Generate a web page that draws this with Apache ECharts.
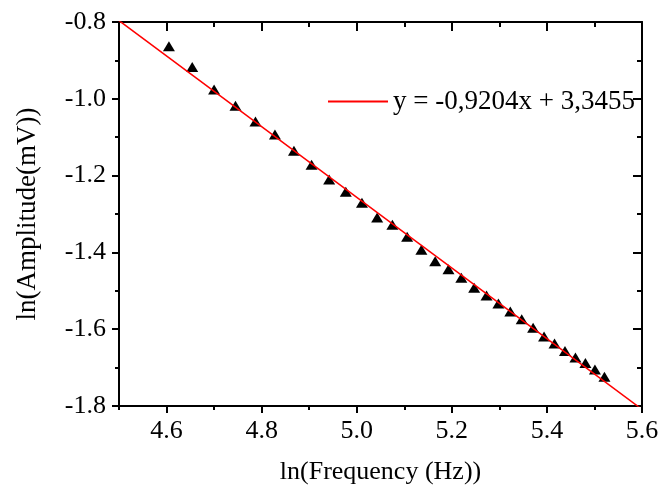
<!DOCTYPE html>
<html lang="en">
<head>
    <meta charset="UTF-8">
    <title>ln Amplitude vs ln Frequency</title>
    <script src="https://cdn.jsdelivr.net/npm/echarts@6.0.0/dist/echarts.min.js"></script>
    <style>
        html, body { margin: 0; padding: 0; background: #fff; }
        #chart { width: 662px; height: 493px; }
    </style>
</head>
<body>
    <div id="chart"></div>
    <script>
    // measured points: ln(f) and ln(amplitude)
    const lnFreq = [4.605, 4.654, 4.700, 4.745, 4.787, 4.828, 4.868, 4.905, 4.942, 4.977,
        5.011, 5.043, 5.075, 5.106, 5.136, 5.165, 5.193, 5.220, 5.247, 5.273,
        5.298, 5.323, 5.347, 5.371, 5.394, 5.416, 5.438, 5.460, 5.481, 5.501, 5.521];
    const lnAmp = [-0.863, -0.917, -0.976, -1.018, -1.059, -1.093, -1.135, -1.172, -1.210, -1.242,
        -1.271, -1.309, -1.328, -1.359, -1.393, -1.423, -1.444, -1.466, -1.492, -1.512,
        -1.533, -1.554, -1.574, -1.596, -1.619, -1.637, -1.657, -1.674, -1.688, -1.705, -1.724];
    // end points of the fitted line
    const fitX = [4.5, 5.6];
    const fitY = [-0.7963, -1.8087];
    const fitLabel = 'y = -0,9204x + 3,3455';
    // tick labels
    const xTicks = [4.6, 4.8, 5.0, 5.2, 5.4, 5.6];
    const yTicks = [-1.8, -1.6, -1.4, -1.2, -1.0, -0.8];

    const font = 'Liberation Serif, serif';
    const black = '#000';

    function hasTick(list, v) {
        return list.some(t => Math.abs(t - v) < 1e-6);
    }

    // one axis per tick size; major ones use customValues
    function makeAxis(kind, pos, major, inside, showLine) {
        const isX = kind === 'x';
        const ax = {
            type: 'value',
            position: pos,
            min: isX ? 4.5 : -1.8,
            max: isX ? 5.6 : -0.8,
            interval: 0.1,
            splitLine: { show: false },
            axisLine: { show: showLine, onZero: false, lineStyle: { color: black, width: 2 } },
            axisTick: {
                show: true,
                inside: inside,
                length: major ? (inside ? 9 : 7) : (inside ? 5 : 4),
                lineStyle: { color: black, width: 2 }
            },
            axisLabel: { show: false }
        };
        if (major) {
            ax.axisTick.customValues = isX ? xTicks : yTicks;
        }
        return ax;
    }

    const bottomMain = makeAxis('x', 'bottom', false, false, true);
    bottomMain.axisLabel = {
        show: true,
        showMinLabel: true,
        showMaxLabel: true,
        formatter: v => hasTick(xTicks, v) ? v.toFixed(1) : '',
        color: black,
        fontFamily: font,
        fontSize: 26,
        margin: 12
    };
    bottomMain.name = 'ln(Frequency (Hz))';
    bottomMain.nameLocation = 'middle';
    bottomMain.nameGap = 53;
    bottomMain.nameTextStyle = { color: black, fontFamily: font, fontSize: 26 };

    const leftMain = makeAxis('y', 'left', false, false, true);
    leftMain.axisLabel = {
        show: true,
        showMinLabel: true,
        showMaxLabel: true,
        formatter: v => hasTick(yTicks, v) ? v.toFixed(1) : '',
        color: black,
        fontFamily: font,
        fontSize: 26,
        margin: 13
    };
    leftMain.name = 'ln(Amplitude(mV))';
    leftMain.nameLocation = 'middle';
    leftMain.nameGap = 78;
    leftMain.nameTextStyle = { color: black, fontFamily: font, fontSize: 27 };

    const xAxes = [
        bottomMain,
        makeAxis('x', 'bottom', true, false, false),
        makeAxis('x', 'top', false, true, true),
        makeAxis('x', 'top', true, true, false)
    ];
    const yAxes = [
        leftMain,
        makeAxis('y', 'left', true, false, false),
        makeAxis('y', 'right', false, true, true),
        makeAxis('y', 'right', true, true, false)
    ];

    const points = lnFreq.map((x, i) => [x, lnAmp[i]]);
    const fitLine = fitX.map((x, i) => [x, fitY[i]]);

    const chart = echarts.init(document.getElementById('chart'));
    chart.setOption({
        backgroundColor: '#fff',
        animation: false,
        textStyle: { fontFamily: font, color: black },
        grid: { left: 119, top: 22, width: 523, height: 384, containLabel: false },
        xAxis: xAxes,
        yAxis: yAxes,
        legend: {
            data: [fitLabel],
            left: 328,
            top: 88,
            padding: 0,
            itemWidth: 60,
            itemHeight: 2,
            icon: 'rect',
            textStyle: { color: black, fontFamily: font, fontSize: 27 }
        },
        series: [
            {
                name: 'data',
                type: 'scatter',
                data: points,
                symbol: 'triangle',
                symbolSize: [12, 10],
                itemStyle: { color: black, opacity: 1 },
                z: 2
            },
            {
                name: fitLabel,
                type: 'line',
                data: fitLine,
                showSymbol: false,
                clip: true,
                lineStyle: { color: '#ff0000', width: 1.5 },
                itemStyle: { color: '#ff0000' },
                z: 3
            }
        ]
    });
    </script>
</body>
</html>
